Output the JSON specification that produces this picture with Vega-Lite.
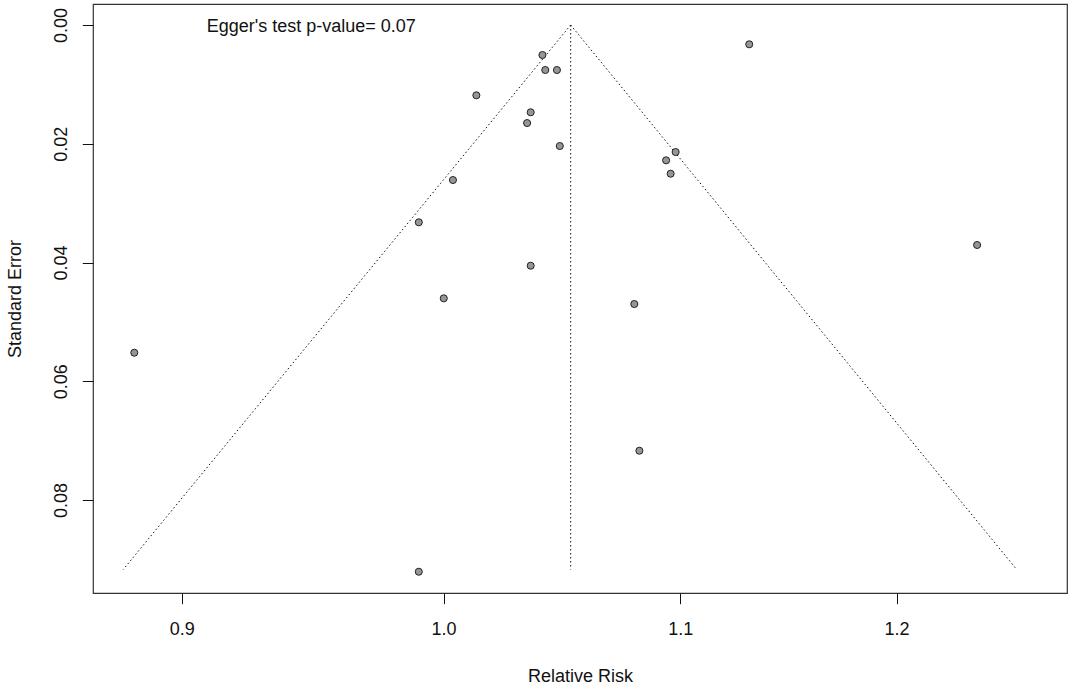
{
  "$schema": "https://vega.github.io/schema/vega-lite/v6.json",
  "width": 974,
  "height": 589,
  "autosize": {"type": "none"},
  "padding": {"left": 93, "top": 4, "right": 1, "bottom": 93},
  "background": "white",
  "config": {
    "view": {"stroke": "#333333", "strokeWidth": 1.2},
    "font": "Liberation Sans",
    "axis": {
      "domain": false,
      "grid": false,
      "ticks": true,
      "tickColor": "#111111",
      "tickWidth": 1,
      "tickSize": 10.7,
      "labelFont": "Liberation Sans",
      "labelFontSize": 18,
      "labelColor": "#111111",
      "labelFlush": false,
      "labelOverlap": false,
      "labelBound": false,
      "titleFont": "Liberation Sans",
      "titleFontSize": 18,
      "titleFontWeight": "normal",
      "titleColor": "#111111"
    }
  },
  "datasets": {
    "studies": [
      {"rr": 1.0406, "se": 0.00505},
      {"rr": 1.0418, "se": 0.00758},
      {"rr": 1.0467, "se": 0.00758},
      {"rr": 1.1309, "se": 0.00325},
      {"rr": 1.0133, "se": 0.01184},
      {"rr": 1.0357, "se": 0.01470},
      {"rr": 1.0342, "se": 0.01651},
      {"rr": 1.0479, "se": 0.02038},
      {"rr": 1.0979, "se": 0.02139},
      {"rr": 1.0937, "se": 0.02279},
      {"rr": 1.0957, "se": 0.02504},
      {"rr": 1.0038, "se": 0.02611},
      {"rr": 0.9901, "se": 0.03323},
      {"rr": 1.2395, "se": 0.03705},
      {"rr": 1.0357, "se": 0.04054},
      {"rr": 1.0001, "se": 0.04603},
      {"rr": 1.0798, "se": 0.04699},
      {"rr": 0.8830, "se": 0.05519},
      {"rr": 1.0820, "se": 0.07170},
      {"rr": 0.9901, "se": 0.09208}
    ],
    "funnel": [
      {"part": "lower", "rr": 0.8791, "se": 0.0917},
      {"part": "lower", "rr": 1.0525, "se": 0.0},
      {"part": "upper", "rr": 1.0525, "se": 0.0},
      {"part": "upper", "rr": 1.2594, "se": 0.0917},
      {"part": "estimate", "rr": 1.0525, "se": 0.0},
      {"part": "estimate", "rr": 1.0525, "se": 0.0917}
    ],
    "note": [
      {"rr": 0.9482, "se": 0.0, "label": "Egger's test p-value= 0.07"}
    ]
  },
  "layer": [
    {
      "data": {"name": "funnel"},
      "mark": {"type": "line", "color": "#111111", "strokeWidth": 1, "strokeDash": [1.5, 2.5]},
      "encoding": {
        "x": {
          "field": "rr",
          "type": "quantitative",
          "scale": {"type": "log", "domain": [0.86845, 1.28516], "nice": false, "zero": false},
          "axis": {
            "values": [0.9, 1.0, 1.1, 1.2],
            "format": ".1f",
            "labelBaseline": "alphabetic",
            "labelPadding": 31,
            "title": "Relative Risk",
            "titleBaseline": "alphabetic",
            "titleY": 88.8
          }
        },
        "y": {
          "field": "se",
          "type": "quantitative",
          "scale": {"domain": [-0.00354, 0.09566], "reverse": true, "nice": false, "zero": false},
          "axis": {
            "values": [0, 0.02, 0.04, 0.06, 0.08],
            "format": ".2f",
            "labelAngle": 270,
            "labelAlign": "center",
            "labelBaseline": "alphabetic",
            "labelPadding": 16,
            "title": "Standard Error",
            "titleAngle": 270,
            "titleAlign": "center",
            "titleBaseline": "alphabetic",
            "titleX": -72.8,
            "titleY": 294.5
          }
        },
        "detail": {"field": "part"},
        "order": {"field": "se", "type": "quantitative"}
      }
    },
    {
      "data": {"name": "studies"},
      "mark": {"type": "point", "shape": "circle", "filled": true, "fill": "#969696", "stroke": "#222222", "strokeWidth": 1, "opacity": 1, "size": 50},
      "encoding": {
        "x": {"field": "rr", "type": "quantitative"},
        "y": {"field": "se", "type": "quantitative"}
      }
    },
    {
      "data": {"name": "note"},
      "mark": {"type": "text", "font": "Liberation Sans", "fontSize": 18, "color": "#111111", "align": "center", "baseline": "alphabetic", "dy": 6.7},
      "encoding": {
        "x": {"field": "rr", "type": "quantitative"},
        "y": {"field": "se", "type": "quantitative"},
        "text": {"field": "label"}
      }
    }
  ]
}
